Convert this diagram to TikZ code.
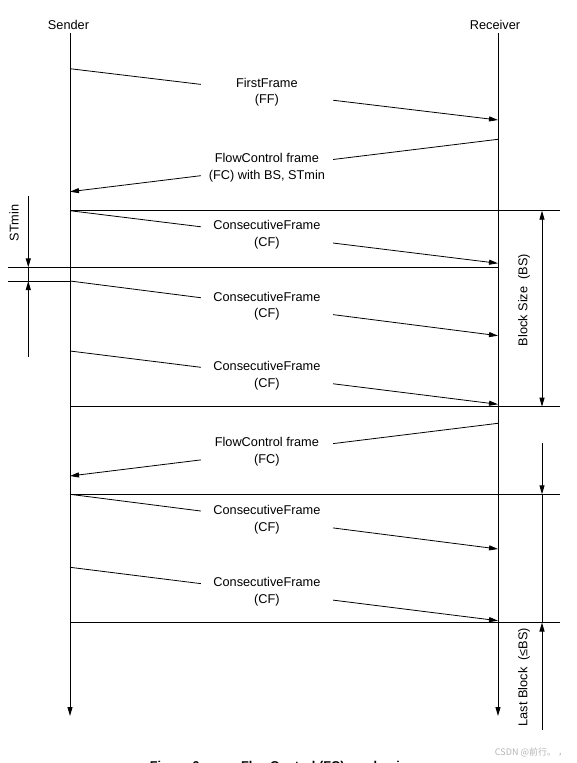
\documentclass[tikz,border=0pt]{standalone}
\usepackage{fontspec}
\setmainfont{Liberation Sans}
\newfontfamily\cjk{Noto Sans CJK SC}
\usetikzlibrary{arrows.meta}
\definecolor{wgrau}{HTML}{B4B4B4}
\tikzset{
  msg/.style={-{Triangle[length=9pt,width=5pt]},line width=0.8pt},
  life/.style={-{Triangle[length=9pt,width=5pt]},line width=0.9pt},
  mass/.style={-{Triangle[length=9pt,width=5pt]},line width=0.9pt},
  trenn/.style={line width=0.9pt},
  lbl/.style={fill=white,inner sep=0pt,minimum width=132pt,align=center,
    font=\fontsize{12.75}{16.5}\selectfont},
  txt/.style={inner sep=0pt,font=\fontsize{12.75}{15}\selectfont},
}

\begin{document}
\begin{tikzpicture}[x=1pt,y=-1pt]
  \useasboundingbox (0,0) rectangle (576,763);
  % lifelines
  \node[txt] (snd) at (68.5,25) {Sender};
  \node[txt] (rcv) at (495,25) {Receiver};
  \coordinate (s0) at (70,33);  \coordinate (sEnd) at (70,716);
  \coordinate (r0) at (498,33); \coordinate (rEnd) at (498,716);
  \draw[life] (s0) -- (sEnd);
  \draw[life] (r0) -- (rEnd);
  % first frame and flow control
  \coordinate (ffs) at (70,68.7);  \coordinate (ffr) at (498,120);
  \draw[msg] (ffs) -- node[lbl,pos=0.46] (ff) {FirstFrame\\(FF)} (ffr);
  \coordinate (fc1r) at (498,139.3); \coordinate (fc1s) at (70,191.7);
  \draw[msg] (fc1r) -- node[lbl,pos=0.54] (fc1) {FlowControl frame\\(FC) with BS, STmin} (fc1s);
  \coordinate (fc2r) at (498,423.3); \coordinate (fc2s) at (70,476);
  \draw[msg] (fc2r) -- node[lbl,pos=0.54] (fc2) {FlowControl frame\\(FC)} (fc2s);
  % consecutive frames
  \foreach \n/\ya/\yb in {1/210.7/263.3, 2/281/335.7, 3/351/404.3, 4/494.3/549, 5/567.3/620.7}{
    \coordinate (cfs\n) at (70,\ya);
    \coordinate (cfr\n) at (498,\yb);
    \draw[msg] (cfs\n) -- node[lbl,pos=0.46] (cf\n) {ConsecutiveFrame\\(CF)} (cfr\n);}
  % block borders
  \foreach \y in {210.7, 406.7, 494.3, 622.5}
    \draw[trenn] (70,\y) -- (560,\y);
  \draw[trenn] (8,267.3) -- (498,267.3);
  \draw[trenn] (8,281) -- (70,281);
  % STmin
  \coordinate (st0) at (28.3,196);  \coordinate (st1) at (28.3,267.3);
  \coordinate (st2) at (28.3,281);  \coordinate (st3) at (28.3,356.7);
  \draw[mass] (st0) -- (st1);
  \draw[trenn] (st1) -- (st2);
  \draw[mass] (st3) -- (st2);
  \node[txt,rotate=90] (stmin) at (14,223) {STmin};
  % block size
  \coordinate (bs0) at (542,210.7); \coordinate (bs1) at (542,406.7);
  \draw[mass,{Triangle[length=9pt,width=5pt]}-{Triangle[length=9pt,width=5pt]}] (bs0) -- (bs1);
  \node[txt,rotate=90] (bs) at (524,300) {Block Size\ \ (BS)};
  \coordinate (fb0) at (542,443.3); \coordinate (fb1) at (542,494.3);
  \coordinate (lb0) at (542,730);   \coordinate (lb1) at (542,622.5);
  \draw[mass] (fb0) -- (fb1);
  \draw[trenn] (fb1) -- (lb1);
  \draw[mass] (lb0) -- (lb1);
  \node[txt,rotate=90] (lb) at (524,677) {Last Block\ \ (≤BS)};
  % caption, cut at the lower edge
  \node[anchor=base,inner sep=0pt,font=\bfseries\fontsize{12.75}{15}\selectfont] (cap) at (284,770)
    {Figure 6\quad — \quad FlowControl (FC) mechanism};
  \node[inner sep=0pt,wgrau,font=\cjk\fontsize{9}{10}\selectfont] (wm) at (531,752) {CSDN @前行。 ，};
\end{tikzpicture}
\end{document}
